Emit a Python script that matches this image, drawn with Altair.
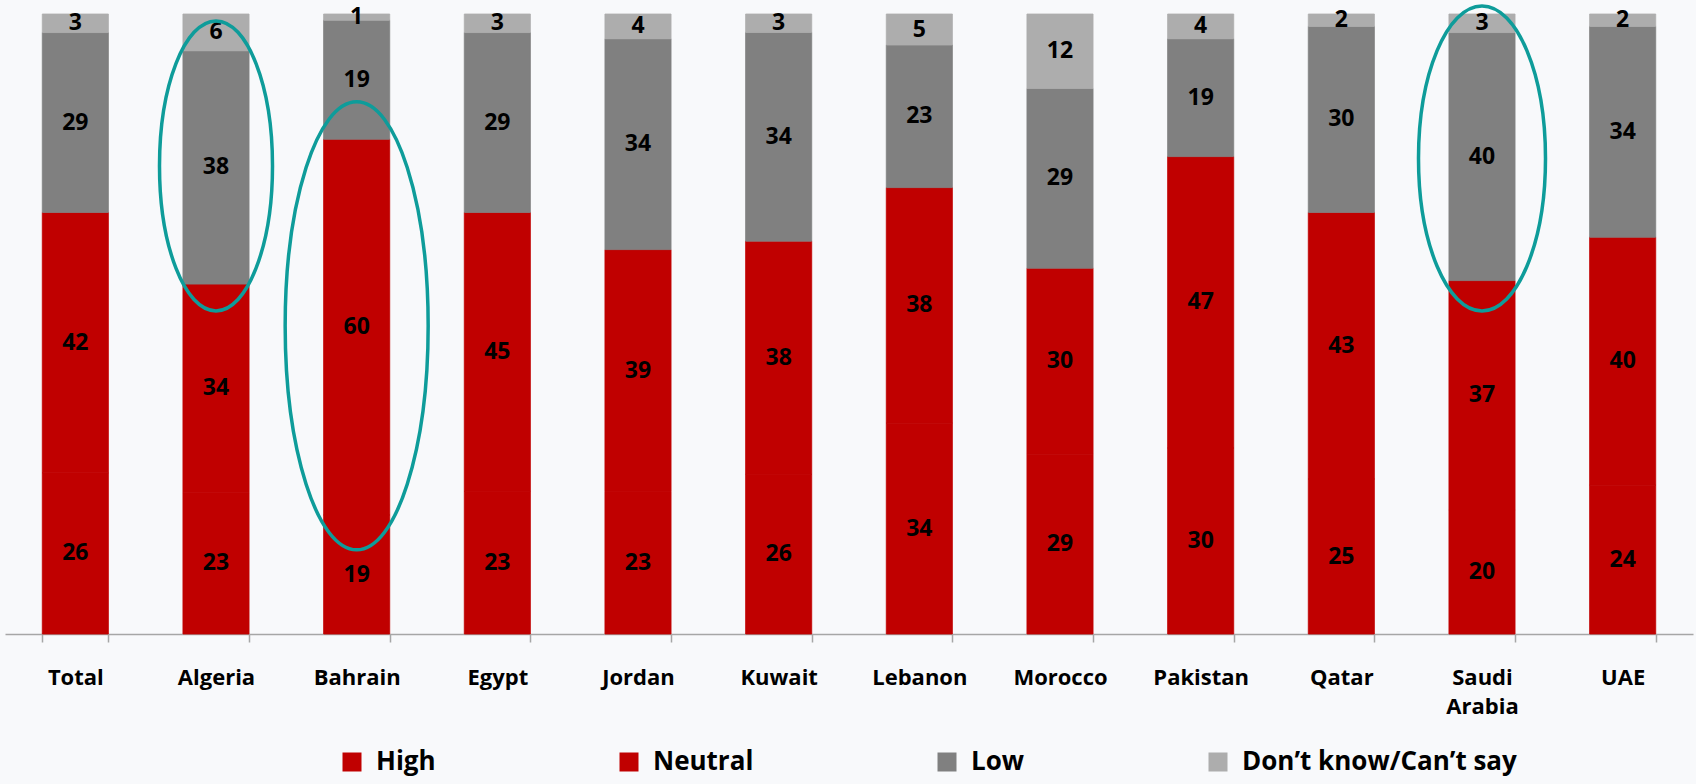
import altair as alt
import pandas as pd

countries = ["Total", "Algeria", "Bahrain", "Egypt", "Jordan", "Kuwait",
             "Lebanon", "Morocco", "Pakistan", "Qatar", "Saudi Arabia", "UAE"]
high = [26, 23, 19, 23, 23, 26, 34, 29, 30, 25, 20, 24]
neutral = [42, 34, 60, 45, 39, 38, 38, 30, 47, 43, 37, 40]
low = [29, 38, 19, 29, 34, 34, 23, 29, 19, 30, 40, 34]
dont_know = [3, 6, 1, 3, 4, 3, 5, 12, 4, 2, 3, 2]
series = ["High", "Neutral", "Low", "Don\u2019t know/Can\u2019t say"]
colors = ["#C00000", "#C00000", "#808080", "#ADADAD"]

# highlighted (circled) segments
ell_countries = ["Algeria", "Bahrain", "Saudi Arabia"]
ell_center = [0.755, 0.497, 0.767]
ell_w = [113, 143, 127]
ell_h = [290, 448, 305]

rows = []
for i, c in enumerate(countries):
    for k, (s, vals) in enumerate(zip(series, [high, neutral, low, dont_know])):
        rows.append({"country": c, "series": s, "order": k, "value": vals[i]})
df = pd.DataFrame(rows)

FONT = "Open Sans"

x_enc = alt.X(
    "country:N", sort=countries, title=None,
    scale=alt.Scale(paddingInner=0.53, paddingOuter=0.265),
    axis=alt.Axis(labelAngle=0, labelFont=FONT, labelFontWeight="bold",
                  labelFontSize=22, labelColor="black",
                  domainColor="#A6A6A6", domainWidth=1.5,
                  tickColor="#A6A6A6", tickWidth=1.5, tickSize=8,
                  tickBand="extent", labelPadding=25,
                  labelExpr="split(datum.label, ' ')", labelLineHeight=29),
)
y_scale = alt.Scale(domain=[0, 1])
color_scale = alt.Scale(domain=series, range=colors)

base = alt.Chart(df).transform_stack(
    as_=["y0", "y1"], stack="value", groupby=["country"],
    sort=[alt.SortField("order", order="ascending")], offset="normalize"
).transform_calculate(mid="(datum.y0 + datum.y1) / 2")

bars = base.mark_bar(strokeWidth=0.8).encode(
    x=x_enc,
    y=alt.Y("y0:Q", scale=y_scale, axis=None),
    y2="y1:Q",
    stroke=alt.Stroke("series:N", sort=series, scale=color_scale, legend=None),
    color=alt.Color(
        "series:N", sort=series, scale=color_scale,
        legend=alt.Legend(title=None, orient="none", legendX=334, legendY=735,
                          direction="horizontal", columns=4, columnPadding=180,
                          symbolType="square", symbolSize=361,
                          symbolStrokeWidth=0, labelFont=FONT,
                          labelFontSize=26, labelFontWeight="bold",
                          labelColor="black", labelOffset=11, labelLimit=500,
                          padding=0),
    ),
)

labels = base.mark_text(font=FONT, fontWeight="bold", fontSize=23,
                        color="black").encode(
    x=alt.X("country:N", sort=countries),
    y=alt.Y("mid:Q", scale=y_scale),
    text="value:Q",
)

layers = [bars, labels]
k = 0.5523
for c, cy, w, h in zip(ell_countries, ell_center, ell_w, ell_h):
    rx = w / h
    path = (f"M 0 -1 C {k*rx:.4f} -1 {rx:.4f} -{k} {rx:.4f} 0 "
            f"C {rx:.4f} {k} {k*rx:.4f} 1 0 1 "
            f"C -{k*rx:.4f} 1 -{rx:.4f} {k} -{rx:.4f} 0 "
            f"C -{rx:.4f} -{k} -{k*rx:.4f} -1 0 -1 Z")
    edf = pd.DataFrame({"country": [c], "cy": [cy]})
    layers.append(
        alt.Chart(edf).mark_point(shape=path, size=h * h, filled=False,
                                  stroke="#0E9C9A", strokeWidth=3.5,
                                  opacity=1).encode(
            x=alt.X("country:N", sort=countries),
            y=alt.Y("cy:Q", scale=y_scale),
        )
    )

chart = alt.layer(*layers).properties(
    width=1688, height=620,
    autosize=alt.AutoSizeParams(type="none"),
    padding={"left": 5, "top": 14, "right": 3, "bottom": 150},
    background="#F8F9FB",
).configure_view(stroke=None)

chart.save("out.html", embed_options={"renderer": "svg", "actions": False})
